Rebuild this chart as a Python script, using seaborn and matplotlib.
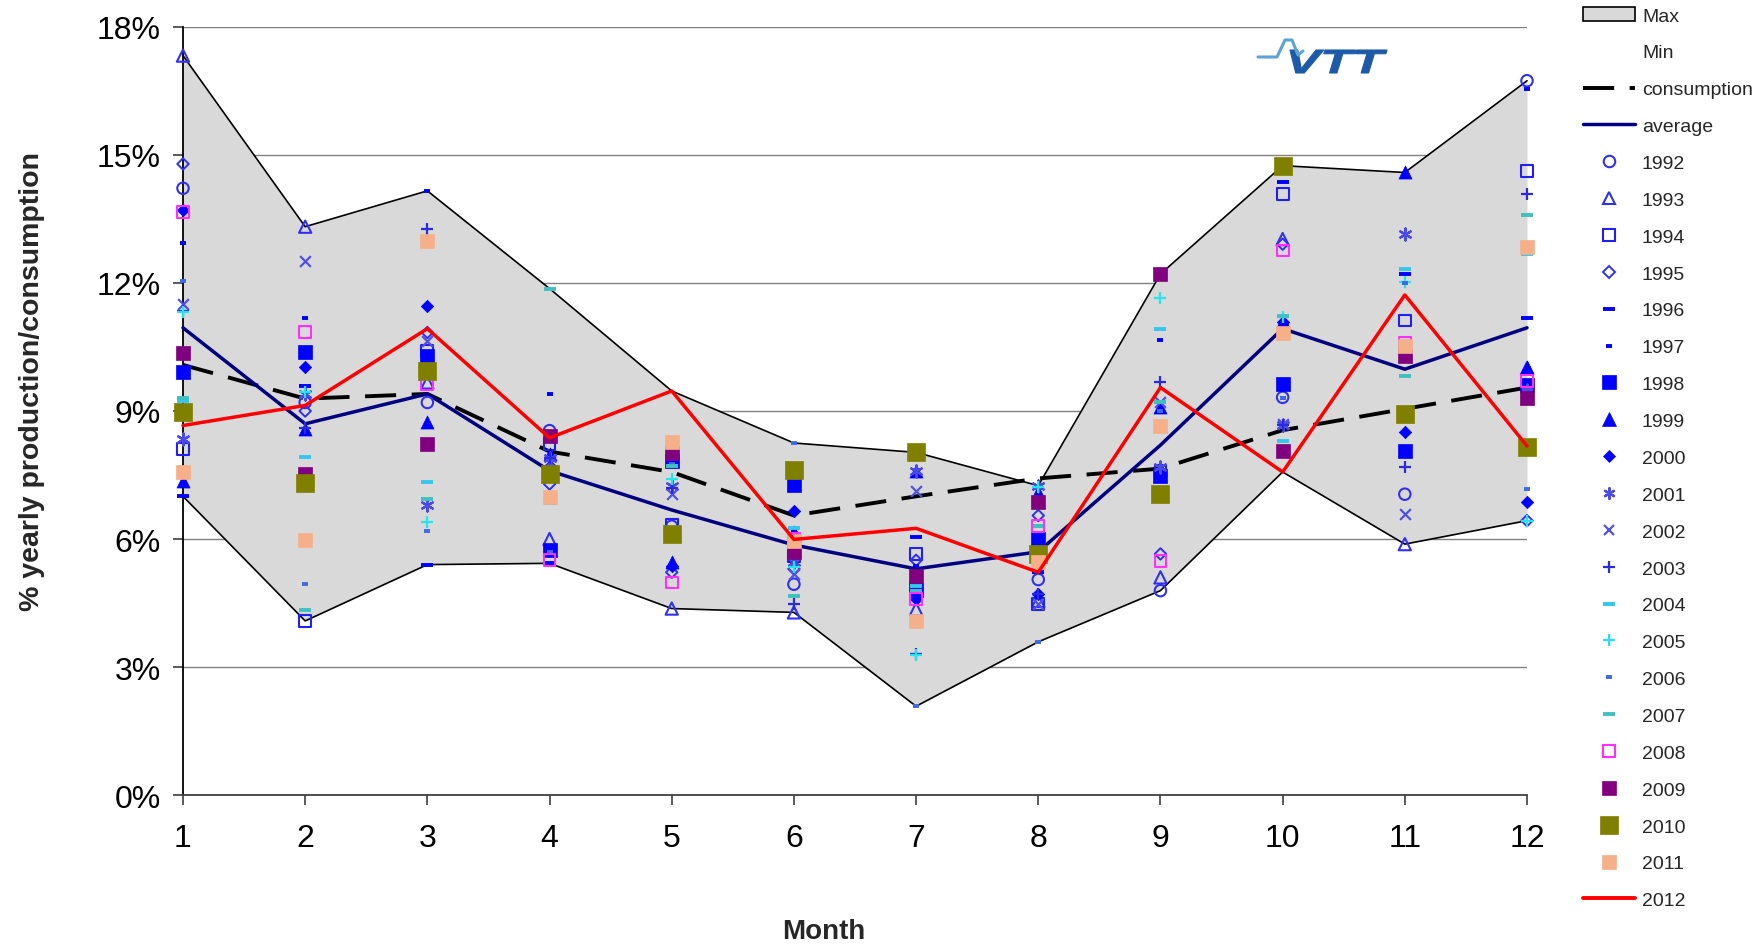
import matplotlib
matplotlib.use("Agg")
import numpy as np
import pandas as pd
import matplotlib.pyplot as plt
import seaborn as sns
from matplotlib.lines import Line2D
from matplotlib.patches import Patch, PathPatch
from matplotlib.ticker import PercentFormatter
from matplotlib.textpath import TextPath
from matplotlib.font_manager import FontProperties
from matplotlib.transforms import Affine2D, IdentityTransform

# ---- data: monthly share of yearly production (%) ----
months = list(range(1, 13))

max_share = [17.33, 13.32, 14.16, 11.87, 9.47, 8.25, 8.03, 7.25, 12.21, 14.75, 14.59, 16.74]
min_share = [7.00, 4.08, 5.40, 5.43, 4.37, 4.28, 2.08, 3.59, 4.79, 7.57, 5.88, 6.43]
consumption = [10.08, 9.29, 9.40, 8.05, 7.57, 6.55, 7.00, 7.42, 7.65, 8.55, 9.05, 9.55]
average = [10.95, 8.70, 9.40, 7.60, 6.68, 5.86, 5.30, 5.70, 8.20, 10.93, 9.98, 10.95]

p1992 = [14.22, 9.20, 9.20, 8.54, 6.30, 4.94, 4.99, 5.05, 4.79, 9.32, 7.05, 16.74]
p1993 = [17.33, 13.32, 9.67, 6.00, 4.37, 4.28, 4.36, 4.55, 5.10, 13.03, 5.88, 10.00]
p1994 = [8.11, 4.08, 10.41, 8.23, 6.33, 5.60, 5.65, 4.48, 7.60, 14.09, 11.12, 14.63]
p1995 = [14.79, 9.00, 10.84, 7.29, 5.22, 5.30, 5.50, 6.55, 5.65, 12.91, 10.50, 6.43]
p1996 = [7.00, 9.59, 5.40, 5.43, 7.90, 5.50, 6.04, 5.22, 7.37, 14.37, 12.21, 11.17]
p1997 = [12.93, 11.19, 14.16, 9.40, 8.10, 6.20, 5.37, 5.80, 10.66, 9.30, 12.00, 16.55]
p1998 = [9.92, 10.39, 10.30, 5.74, 7.83, 7.27, 4.80, 6.00, 7.48, 9.63, 8.07, 9.60]
p1999 = [7.37, 8.58, 8.75, 8.00, 5.46, 6.16, 7.60, 7.09, 9.09, 11.10, 14.59, 10.02]
p2000 = [13.72, 10.02, 11.45, 7.70, 5.37, 6.66, 4.60, 4.71, 7.55, 11.08, 8.50, 6.86]
p2001 = [8.34, 9.40, 6.80, 7.90, 7.25, 5.45, 7.60, 7.25, 7.68, 8.67, 13.15, 9.50]
p2002 = [11.51, 12.51, 10.65, 7.80, 7.05, 5.18, 7.13, 4.48, 9.20, 8.70, 6.59, 9.40]
p2003 = [11.35, 8.60, 13.26, 7.90, 7.20, 4.48, 3.30, 4.70, 9.69, 8.67, 7.68, 14.08]
p2004 = [9.24, 7.93, 7.33, 6.85, 7.72, 6.25, 4.90, 6.31, 10.92, 8.30, 12.33, 12.68]
p2005 = [11.31, 9.45, 6.41, 7.00, 7.41, 5.34, 3.28, 7.21, 11.66, 11.20, 12.02, 6.43]
p2006 = [12.05, 4.94, 6.18, 5.70, 7.75, 8.25, 2.08, 3.59, 9.00, 9.30, 12.00, 7.17]
p2007 = [9.30, 4.34, 6.94, 11.87, 7.70, 4.67, 4.77, 6.30, 9.20, 11.23, 9.81, 13.60]
p2008 = [13.66, 10.86, 9.63, 5.51, 4.98, 6.00, 4.59, 6.31, 5.49, 12.76, 10.60, 9.71]
p2009 = [10.36, 7.52, 8.23, 8.41, 8.01, 5.69, 5.14, 6.86, 12.21, 8.07, 10.30, 9.30]
p2010 = [8.97, 7.31, 9.94, 7.52, 6.12, 7.62, 8.03, 5.65, 7.05, 14.75, 8.93, 8.15]
p2011 = [7.56, 5.98, 12.99, 6.98, 8.27, 5.96, 4.08, 5.45, 8.66, 10.82, 10.53, 12.84]
p2012 = [8.66, 9.13, 10.93, 8.37, 9.47, 5.99, 6.25, 5.22, 9.55, 7.57, 11.72, 8.18]

ASTERISK = (6, 2, 0)
# year, values, marker, colour, kind, size (pt^2), line width
year_styles = [
    ("1992", p1992, "o", "#3030f0", "hollow", 68, 1.5),
    ("1993", p1993, "^", "#3030f0", "hollow", 78, 1.5),
    ("1994", p1994, "s", "#2020f0", "hollow", 72, 1.5),
    ("1995", p1995, "D", "#3030f0", "hollow", 34, 1.4),
    ("1996", p1996, "_", "#0000ff", "line", 72, 2.8),
    ("1997", p1997, "_", "#0000ff", "line", 22, 2.8),
    ("1998", p1998, "s", "#0000ff", "filled", 88, 0.5),
    ("1999", p1999, "^", "#0000ff", "filled", 88, 0.5),
    ("2000", p2000, "D", "#0000ff", "filled", 40, 0.5),
    ("2001", p2001, ASTERISK, "#4a4ae8", "line", 75, 1.6),
    ("2002", p2002, "x", "#5050e8", "line", 60, 1.6),
    ("2003", p2003, "+", "#2a2ae0", "line", 70, 1.6),
    ("2004", p2004, "_", "#33c6ee", "line", 72, 2.8),
    ("2005", p2005, "+", "#22e6ee", "line", 70, 1.6),
    ("2006", p2006, "_", "#3d6be8", "line", 22, 2.8),
    ("2007", p2007, "_", "#40c0c0", "line", 72, 2.8),
    ("2008", p2008, "s", "#ff30ff", "hollow", 72, 1.5),
    ("2009", p2009, "s", "#800080", "filled", 88, 0.5),
    ("2010", p2010, "s", "#808000", "filled", 165, 0.5),
    ("2011", p2011, "s", "#f5b08a", "filled", 88, 0.5),
]

sns.set_theme(style="white")
plt.rcParams["font.family"] = ["Liberation Sans", "DejaVu Sans"]

W, H = 1764, 945
fig = plt.figure(figsize=(W / 100, H / 100), dpi=100)
ax = fig.add_axes([183 / W, 1 - 796 / H, (1527 - 183) / W, (796 - 28) / H])

band = pd.DataFrame({"month": months, "max": max_share, "min": min_share})
ax.fill_between(band["month"], band["min"], band["max"], color="#d9d9d9",
                linewidth=0, zorder=1)
sns.lineplot(data=band, x="month", y="max", color="black", linewidth=1.2,
             ax=ax, zorder=2, clip_on=False)
sns.lineplot(data=band, x="month", y="min", color="black", linewidth=1.2,
             ax=ax, zorder=2, clip_on=False)

sns.lineplot(x=months, y=consumption, color="black", linewidth=2.8, ax=ax,
             zorder=3, clip_on=False)
ax.lines[-1].set_dashes([8, 4])
sns.lineplot(x=months, y=average, color="#000080", linewidth=2.5, ax=ax,
             zorder=3, clip_on=False)

legend_handles = [
    Patch(facecolor="#d9d9d9", edgecolor="black", linewidth=1.2),
    Patch(facecolor="none", edgecolor="none"),
    Line2D([], [], color="black", linewidth=2.8, dashes=[8, 4]),
    Line2D([], [], color="#000080", linewidth=2.5),
]
legend_labels = ["Max", "Min", "consumption", "average"]

for year, vals, marker, color, kind, size, lw in year_styles:
    kw = dict(x=months, y=vals, marker=marker, s=size, ax=ax, zorder=5,
              legend=False, clip_on=False, color=color, linewidth=lw)
    if kind == "hollow":
        kw.update(facecolor="none", edgecolor=color)
    elif kind == "filled":
        kw.update(edgecolor=color)
    sns.scatterplot(**kw)
    ms = np.sqrt(size)
    if kind == "hollow":
        h = Line2D([], [], linestyle="none", marker=marker, markersize=ms,
                   markerfacecolor="none", markeredgecolor=color, markeredgewidth=lw)
    elif kind == "filled":
        h = Line2D([], [], linestyle="none", marker=marker, markersize=ms,
                   markerfacecolor=color, markeredgecolor=color, markeredgewidth=lw)
    else:
        h = Line2D([], [], linestyle="none", marker=marker, markersize=ms,
                   color=color, markeredgewidth=lw)
    legend_handles.append(h)
    legend_labels.append(year)

sns.lineplot(x=months, y=p2012, color="#ff0000", linewidth=2.5, ax=ax,
             zorder=6, clip_on=False)
legend_handles.append(Line2D([], [], color="#ff0000", linewidth=2.8))
legend_labels.append("2012")

# axes styling
ax.set_xlim(1, 12)
ax.set_ylim(0, 18)
ax.set_xticks(months)
ax.set_yticks(np.arange(0, 19, 3))
ax.yaxis.set_major_formatter(PercentFormatter(xmax=100, decimals=0))
ax.set_axisbelow(True)
ax.yaxis.grid(True, color="#808080", linewidth=1.0)
ax.xaxis.grid(False)
for side in ("top", "right"):
    ax.spines[side].set_visible(False)
ax.spines["left"].set_color("black")
ax.spines["left"].set_linewidth(1.3)
ax.spines["bottom"].set_color("#404040")
ax.spines["bottom"].set_linewidth(1.3)
ax.tick_params(axis="both", which="major", bottom=True, left=True,
               direction="out", length=7, width=1.2, color="#404040",
               labelsize=23, labelcolor="black")
ax.tick_params(axis="y", pad=9)
ax.tick_params(axis="x", pad=13)

ax.set_xlabel("Month", fontsize=20, fontweight="bold", va="top")
ax.xaxis.set_label_coords((824 - 183) / 1344, (796 - 919) / 768)
ax.set_ylabel("% yearly production/consumption", fontsize=20.5, fontweight="bold")
ax.yaxis.set_label_coords((45 - 183) / 1344, (796 - 382) / 768)

fig.legend(legend_handles, legend_labels, loc="upper left",
           bbox_to_anchor=(1583 / W, 1 - 8 / H), frameon=False,
           fontsize=14, handlelength=2.67, handletextpad=0.36,
           labelspacing=0.99, borderpad=0, borderaxespad=0)

# VTT logo
fp = FontProperties(family="Liberation Sans", weight="bold", style="italic")
tp = TextPath((0, 0), "VTT", size=30, prop=fp)
bb = tp.get_extents()
logo_tr = (Affine2D().translate(-bb.x0, -bb.y0)
           .scale(97 / bb.width, 23 / bb.height)
           .translate(1290, H - 74))
fig.add_artist(PathPatch(tp, transform=logo_tr, facecolor="#1d5ba8",
                         edgecolor="#1d5ba8", linewidth=0.8))
wave_x = [1258, 1277, 1285, 1292, 1298, 1303]
wave_y = [58, 58, 41, 41, 56, 52]
fig.add_artist(Line2D(wave_x, [H - v for v in wave_y], color="#5aa2d8",
                      linewidth=2.2, transform=IdentityTransform()))

fig.savefig("out.png", dpi=100)
